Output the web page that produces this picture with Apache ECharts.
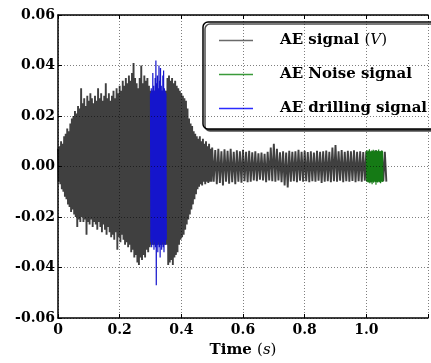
<!DOCTYPE html>
<html><head><meta charset="utf-8">
<script src="https://cdn.jsdelivr.net/npm/echarts@6/dist/echarts.min.js"></script>
<style>html,body{margin:0;padding:0;background:#fff}#c{width:431px;height:363px}</style>
</head><body><div id="c"></div>
<script>
// ---- data ----
const seriesNames = ['AE signal (V)', 'AE Noise signal', 'AE drilling signal'];
const xTickValues = [0, 0.2, 0.4, 0.6, 0.8, 1.0];
const yTickValues = [-0.06, -0.04, -0.02, 0.00, 0.02, 0.04, 0.06];

// AE signal, burst part: bins from 0 s, every 0.005 s (max / min in each bin, V)
const burstStart = 0.0, burstStep = 0.005;
const burstHi = [
 .007,.008,.010,.009,.012,.013,.015,.014,.017,.019,
 .020,.022,.021,.024,.023,.031,.025,.027,.024,.028,
 .026,.029,.027,.025,.028,.026,.031,.027,.029,.026,
 .028,.033,.027,.029,.026,.028,.030,.027,.031,.029,
 .032,.030,.034,.032,.035,.033,.036,.034,.037,.041,
 .035,.033,.031,.035,.040,.033,.036,.034,.035,.032,
 .030,.030,.030,.030,.030,.030,.030,.030,.030,.030,
 .030,.035,.036,.034,.035,.033,.034,.032,.031,.030,
 .029,.028,.027,.026,.023,.019,.017,.016,.014,.013,
 .012,.011,.012,.010,.011,.009,.010,.008,.009,.007];
const burstLo = [
 -.006,-.007,-.009,-.010,-.012,-.013,-.015,-.016,-.018,-.017,
 -.019,-.020,-.024,-.021,-.022,-.020,-.022,-.021,-.027,-.022,
 -.023,-.021,-.024,-.022,-.023,-.025,-.022,-.024,-.026,-.023,
 -.025,-.027,-.024,-.026,-.028,-.027,-.029,-.026,-.033,-.028,
 -.030,-.027,-.029,-.031,-.030,-.032,-.031,-.034,-.033,-.036,
 -.035,-.038,-.039,-.036,-.037,-.035,-.036,-.033,-.034,-.032,
 -.031,-.031,-.031,-.031,-.031,-.031,-.031,-.031,-.031,-.031,
 -.031,-.039,-.038,-.037,-.039,-.036,-.035,-.034,-.031,-.029,
 -.028,-.027,-.025,-.023,-.021,-.019,-.017,-.015,-.013,-.011,
 -.009,-.008,-.007,-.0075,-.006,-.007,-.006,-.0065,-.006,-.006];

// AE signal, tail part: bins from 0.50 s, every 0.01 s
const tailStart = 0.50, tailStep = 0.01;
const tailHi = [
 .0075,.0065,.0070,.0060,.0068,.0062,.0070,.0058,.0064,.0060,
 .0066,.0058,.0062,.0056,.0060,.0052,.0055,.0050,.0058,.0075,
 .0090,.0070,.0056,.0060,.0055,.0062,.0058,.0060,.0066,.0058,
 .0062,.0057,.0060,.0055,.0062,.0058,.0060,.0063,.0058,.0075,
 .0085,.0060,.0065,.0058,.0062,.0060,.0064,.0058,.0060,.0057,
 .0060,.0062,.0060,.0064,.0060,.0062,.0058];
const tailLo = [
 -.0060,-.0070,-.0065,-.0075,-.0060,-.0068,-.0062,-.0070,-.0060,-.0064,
 -.0058,-.0062,-.0060,-.0055,-.0058,-.0052,-.0055,-.0062,-.0055,-.0058,
 -.0060,-.0055,-.0062,-.0075,-.0083,-.0060,-.0058,-.0062,-.0056,-.0060,
 -.0058,-.0062,-.0058,-.0060,-.0056,-.0065,-.0060,-.0058,-.0062,-.0058,
 -.0060,-.0056,-.0062,-.0058,-.0060,-.0057,-.0062,-.0058,-.0060,-.0056,
 -.0060,-.0062,-.0058,-.0060,-.0062,-.0058,-.0060];

// AE drilling signal: bins from 0.30 s, every 0.0025 s
const drillStart = 0.30, drillStep = 0.0025;
const drillHi = [.029,.031,.030,.037,.032,.030,.035,.042,.033,.036,.031,.040,.034,.039,.032,.030,.036,.038,.031,.030,.029];
const drillLo = [-.030,-.032,-.029,-.031,-.033,-.030,-.032,-.047,-.031,-.034,-.030,-.032,-.036,-.031,-.033,-.030,-.032,-.034,-.030,-.031,-.029];

// AE noise signal: bins from 1.00 s, every 0.0025 s
const noiseStart = 1.00, noiseStep = 0.0025;
const noiseHi = [.0060,.0064,.0058,.0062,.0068,.0060,.0057,.0063,.0061,.0066,.0059,.0062,.0058,.0064,.0060,.0062,.0067,.0059,.0061,.0058,.0063,.0060];
const noiseLo = [-.0060,-.0058,-.0063,-.0060,-.0066,-.0059,-.0062,-.0070,-.0060,-.0064,-.0058,-.0061,-.0072,-.0060,-.0063,-.0059,-.0062,-.0060,-.0066,-.0058,-.0061,-.0060];

// ---- build oscillating traces from the per-bin extremes ----
function trace(start, step, hi, lo) {
  const out = [];
  for (let i = 0; i < hi.length; i++) {
    const t = start + i * step;
    out.push([t, hi[i]]);
    out.push([t + step / 2, lo[i]]);
  }
  return out;
}
const grayData = trace(burstStart, burstStep, burstHi, burstLo).concat(trace(tailStart, tailStep, tailHi, tailLo));
const blueData = trace(drillStart, drillStep, drillHi, drillLo);
const greenData = trace(noiseStart, noiseStep, noiseHi, noiseLo);

const FONT = '"DejaVu Serif", serif';
// legend icon: thin horizontal bar inside a 34x14 box (tiny corner specks fix the bounds)
const LINE_ICON = 'path://M0,0H0.05V0.05H0Z M0,6.3H34V7.7H0Z M33.95,13.95H34V14H33.95Z';
const chart = echarts.init(document.getElementById('c'), null, {renderer: 'canvas'});
const gridLine = {show: true, lineStyle: {color: 'rgba(0,0,0,0.5)', width: 1, type: [1, 2]}};
chart.setOption({
  animation: false,
  backgroundColor: '#fff',
  grid: {left: 58, top: 15, width: 380, height: 306, containLabel: false},
  legend: {
    orient: 'vertical', left: 203, top: 22,
    padding: [11, 20, 13, 16], itemGap: 19,
    itemWidth: 34, itemHeight: 14,
    backgroundColor: '#fff', borderColor: '#000', borderWidth: 1.5, borderRadius: 5,
    shadowColor: 'rgba(60,60,60,0.9)', shadowOffsetX: 2, shadowOffsetY: 2, shadowBlur: 0,
    data: [
      {name: seriesNames[0], icon: LINE_ICON, itemStyle: {color: '#6a6a6a'}},
      {name: seriesNames[1], icon: LINE_ICON, itemStyle: {color: '#3a9a3a'}},
      {name: seriesNames[2], icon: LINE_ICON, itemStyle: {color: '#2b2bff'}}
    ],
    formatter: function (n) {
      if (n === seriesNames[0]) return '{b|AE signal }{p|(}{i|V}{p|)}';
      return '{b|' + n + '}';
    },
    textStyle: {
      padding: [0, 0, 0, 22], color: '#000',
      rich: {
        b: {fontFamily: FONT, fontWeight: 'bold', fontSize: 15, color: '#000', lineHeight: 18},
        p: {fontFamily: FONT, fontSize: 15, color: '#000', lineHeight: 18},
        i: {fontFamily: FONT, fontStyle: 'italic', fontSize: 15, color: '#000', lineHeight: 18}
      }
    }
  },
  xAxis: [{
    type: 'value', min: 0, max: 1.2, interval: 0.2, z: 5,
    name: '{b|Time }{p|(}{i|s}{p|)}', nameLocation: 'middle', nameGap: 25,
    nameTextStyle: {
      rich: {
        b: {fontFamily: FONT, fontWeight: 'bold', fontSize: 15, color: '#000'},
        p: {fontFamily: FONT, fontSize: 15, color: '#000'},
        i: {fontFamily: FONT, fontStyle: 'italic', fontSize: 15, color: '#000'}
      }
    },
    axisLine: {show: true, onZero: false, lineStyle: {color: '#000', width: 1.5}},
    axisTick: {show: true, inside: true, length: 4, lineStyle: {color: '#000'}},
    axisLabel: {
      margin: 5, fontFamily: FONT, fontWeight: 'bold', fontSize: 14, color: '#000',
      formatter: function (v) {
        const k = xTickValues.findIndex(x => Math.abs(x - v) < 1e-9);
        if (k < 0) return '';
        return xTickValues[k] === 0 ? '0' : xTickValues[k].toFixed(1);
      }
    },
    splitLine: gridLine
  }, {
    type: 'value', position: 'top', min: 0, max: 1.2, interval: 0.2, z: 5,
    axisLine: {show: true, onZero: false, lineStyle: {color: '#000', width: 1.5}},
    axisTick: {show: true, inside: true, length: 4, lineStyle: {color: '#000'}},
    axisLabel: {show: false}, splitLine: {show: false}
  }],
  yAxis: {
    type: 'value', min: -0.06, max: 0.06, interval: 0.02, z: 5,
    axisLine: {show: true, onZero: false, lineStyle: {color: '#000', width: 1.5}},
    axisTick: {show: true, inside: true, length: 4, lineStyle: {color: '#000'}},
    axisLabel: {
      margin: 3, fontFamily: FONT, fontWeight: 'bold', fontSize: 14, color: '#000',
      formatter: function (v) {
        const k = yTickValues.findIndex(y => Math.abs(y - v) < 1e-9);
        return k < 0 ? '' : yTickValues[k].toFixed(2);
      }
    },
    splitLine: gridLine
  },
  series: [
    {name: seriesNames[0], type: 'line', data: grayData, symbol: 'none', sampling: null,
     lineStyle: {color: '#404040', width: 1.9}, itemStyle: {color: '#404040'}, z: 2},
    {name: seriesNames[1], type: 'line', data: greenData, symbol: 'none',
     lineStyle: {color: '#157a15', width: 1.2}, itemStyle: {color: '#157a15'}, z: 3},
    {name: seriesNames[2], type: 'line', data: blueData, symbol: 'none',
     lineStyle: {color: '#1515cc', width: 1.2}, itemStyle: {color: '#1515cc'}, z: 3}
  ]
});
</script></body></html>
